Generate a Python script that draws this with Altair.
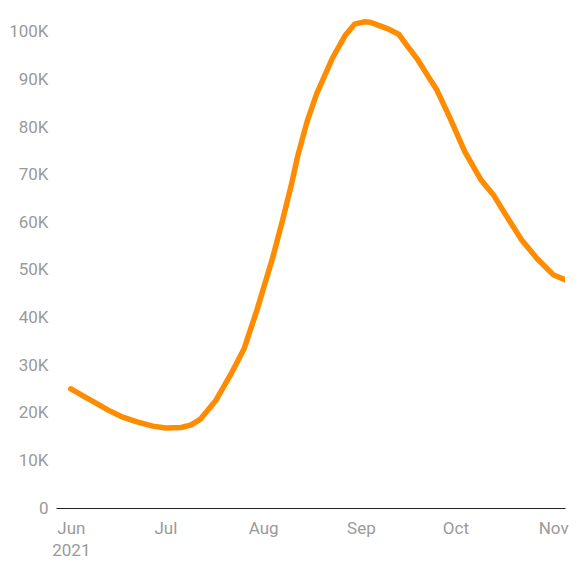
import altair as alt
import pandas as pd

dates = [
    "2021-06-01", "2021-06-05", "2021-06-08", "2021-06-13", "2021-06-17",
    "2021-06-22", "2021-06-27", "2021-07-01", "2021-07-06", "2021-07-09",
    "2021-07-12", "2021-07-17", "2021-07-22", "2021-07-26", "2021-07-30",
    "2021-08-04", "2021-08-07", "2021-08-10", "2021-08-12", "2021-08-15",
    "2021-08-18", "2021-08-23", "2021-08-27", "2021-08-30", "2021-09-02",
    "2021-09-04", "2021-09-06", "2021-09-10", "2021-09-13", "2021-09-16",
    "2021-09-19", "2021-09-22", "2021-09-25", "2021-09-29", "2021-10-04",
    "2021-10-09", "2021-10-13", "2021-10-17", "2021-10-22", "2021-10-27",
    "2021-11-01", "2021-11-07",
]
values = [
    25000, 23500, 22400, 20500, 19200,
    18100, 17200, 16800, 16900, 17400,
    18600, 22600, 28400, 33500, 41500,
    52500, 60000, 68000, 74000, 81300,
    87000, 94500, 99200, 101600, 102100,
    102000, 101500, 100500, 99500, 96800,
    94200, 91000, 87900, 82300, 74800,
    69000, 65800, 61500, 56300, 52300,
    49000, 47300,
]

y_ticks = [0, 10000, 20000, 30000, 40000, 50000, 60000, 70000, 80000, 90000, 100000]
x_ticks = [alt.DateTime(year=2021, month=m, date=1) for m in range(6, 12)]

df = pd.DataFrame({"date": [d + "T00:00:00" for d in dates], "value": values})

label_color = "#9a9a9a"

chart = (
    alt.Chart(df)
    .mark_line(color="#FF8C00", strokeWidth=5.5, strokeCap="round", strokeJoin="round", clip=True)
    .encode(
        x=alt.X(
            "date:T",
            title=None,
            scale=alt.Scale(
                domain=[
                    alt.DateTime(year=2021, month=5, date=27, hours=7),
                    alt.DateTime(year=2021, month=11, date=4, hours=18),
                ]
            ),
            axis=alt.Axis(
                values=x_ticks,
                labelExpr="month(datum.value) == 5 ? [timeFormat(datum.value, '%b'), timeFormat(datum.value, '%Y')] : timeFormat(datum.value, '%b')",
                ticks=False,
                grid=False,
                domain=True,
                domainColor="#222222",
                domainWidth=1.2,
                labelColor=label_color,
                labelFont="Roboto",
                labelFontSize=17,
                labelPadding=12,
                labelLineHeight=22,
                labelAlign="center",
                labelOverlap=False,
                labelBound=False,
                labelFlush=False,
            ),
        ),
        y=alt.Y(
            "value:Q",
            title=None,
            scale=alt.Scale(domain=[0, 105000], nice=False),
            axis=alt.Axis(
                values=y_ticks,
                labelExpr="datum.value == 0 ? '0' : (datum.value / 1000) + 'K'",
                ticks=False,
                grid=False,
                domain=False,
                labelColor=label_color,
                labelFont="Roboto",
                labelFontSize=17,
                labelPadding=8,
            ),
        ),
    )
    .properties(width=509, height=500, padding=0)
    .configure_view(strokeWidth=0, stroke="transparent")
)

chart.save("out.html", embed_options={"renderer": "svg", "actions": False})
